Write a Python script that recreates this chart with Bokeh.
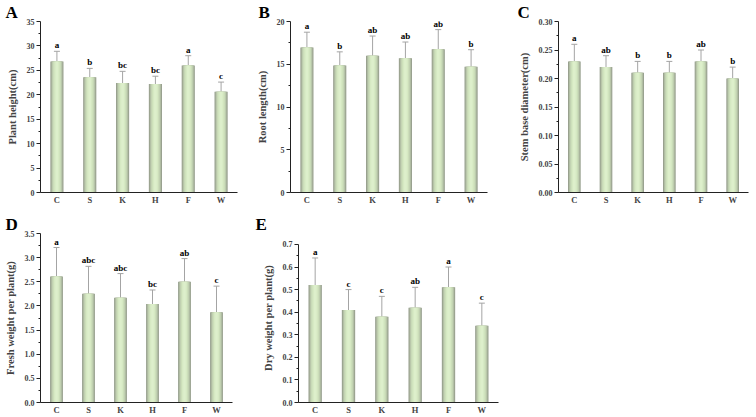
from bokeh.plotting import figure
from bokeh.models import (ColumnDataSource, Whisker, TeeHead, Range1d,
                          FactorRange, FixedTicker, NumeralTickFormatter, Title)
from bokeh.layouts import column, row
from bokeh.embed import file_html
from bokeh.resources import INLINE
from bokeh.core.properties import value

# treatment groups
treatments = ["C", "S", "K", "H", "F", "W"]

# A: plant height (cm)
plant_height = [26.8, 23.6, 22.4, 22.2, 26.0, 20.6]
plant_height_sd = [2.1, 1.8, 2.4, 1.6, 2.0, 2.0]
plant_height_sig = ["a", "b", "bc", "bc", "a", "c"]

# B: root length (cm)
root_length = [16.95, 14.85, 16.0, 15.7, 16.75, 14.7]
root_length_sd = [1.8, 1.6, 2.3, 1.9, 2.3, 2.0]
root_length_sig = ["a", "b", "ab", "ab", "ab", "b"]

# C: stem base diameter (cm)
stem_diameter = [0.23, 0.22, 0.21, 0.21, 0.23, 0.20]
stem_diameter_sd = [0.03, 0.02, 0.02, 0.02, 0.02, 0.02]
stem_diameter_sig = ["a", "ab", "b", "b", "ab", "b"]

# D: fresh weight per plant (g)
fresh_weight = [2.61, 2.25, 2.17, 2.04, 2.50, 1.87]
fresh_weight_sd = [0.60, 0.57, 0.50, 0.29, 0.48, 0.54]
fresh_weight_sig = ["a", "abc", "abc", "bc", "ab", "c"]

# E: dry weight per plant (g)
dry_weight = [0.52, 0.41, 0.38, 0.42, 0.51, 0.34]
dry_weight_sd = [0.12, 0.09, 0.09, 0.09, 0.09, 0.10]
dry_weight_sig = ["a", "c", "c", "ab", "a", "c"]

SERIF = "Liberation Serif"

# bar shading, outer edge to centre, for a rounded look
BAR_LAYERS = [(0.40, "#959d8c"), (0.35, "#aab59d"), (0.30, "#bccbad"),
              (0.24, "#cbddb9"), (0.16, "#d6e9c3"), (0.08, "#ddefcb")]


def panel(letter, letter_dx, vals, sd, sig, ylabel, ymax, step, fmt,
          width, height, left, right, top, bottom, yend=None):
    src = ColumnDataSource(dict(
        x=treatments, top=vals,
        upper=[v + s for v, s in zip(vals, sd)],
        lower=[v - s for v, s in zip(vals, sd)],
        sig=sig,
    ))
    yend = ymax if yend is None else yend
    p = figure(x_range=FactorRange(*treatments), y_range=Range1d(0, yend),
               width=width, height=height, output_backend="svg",
               toolbar_location=None, min_border_left=left,
               min_border_right=right, min_border_top=top,
               min_border_bottom=bottom)
    p.title = Title(text=letter, align="left", offset=letter_dx, standoff=0,
                    text_font=SERIF, text_font_style="bold",
                    text_font_size="17px", text_color="black")
    p.outline_line_color = None
    p.grid.visible = False

    for w, c in BAR_LAYERS:
        p.vbar(x="x", top="top", bottom=0, width=w, source=src,
               fill_color=c, line_color=None)

    whisker = Whisker(source=src, base="x", upper="upper", lower="lower",
                      line_color="#a4a4a4", line_width=1,
                      upper_head=TeeHead(size=6, line_color="#a4a4a4"),
                      lower_head=TeeHead(size=6, line_color="#a4a4a4"))
    p.add_layout(whisker)

    p.text(x="x", y="upper", text="sig", source=src, text_align="center",
           text_baseline="bottom", y_offset=-1, text_font=value(SERIF),
           text_font_style="bold", text_font_size="9px", text_color="black")

    n = int(round(ymax / step))
    ticks = [round(i * step, 6) for i in range(n + 1)]
    minor = [round((i + 0.5) * step, 6) for i in range(n)]

    yax = p.yaxis[0]
    yax.ticker = FixedTicker(ticks=ticks, minor_ticks=minor)
    yax.formatter = NumeralTickFormatter(format=fmt)
    yax.bounds = (0, ymax)
    yax.axis_label = ylabel
    yax.axis_label_text_font = SERIF
    yax.axis_label_text_font_style = "bold"
    yax.axis_label_text_font_size = "10.5px"
    yax.axis_label_standoff = 6
    yax.major_label_text_font = SERIF
    yax.major_label_text_font_style = "bold"
    yax.major_label_text_font_size = "8px"
    yax.major_label_standoff = 2
    yax.major_tick_out = 4
    yax.major_tick_in = 0
    yax.minor_tick_out = 2
    yax.minor_tick_in = 0
    yax.axis_line_color = "#222222"
    yax.major_tick_line_color = "#222222"
    yax.minor_tick_line_color = "#222222"

    xax = p.xaxis[0]
    xax.major_label_text_font = SERIF
    xax.major_label_text_font_style = "bold"
    xax.major_label_text_font_size = "8.5px"
    xax.major_label_standoff = 2
    xax.major_tick_out = 0
    xax.major_tick_in = 0
    xax.axis_line_color = "#222222"
    return p


pa = panel("A", -35, plant_height, plant_height_sd, plant_height_sig,
           "Plant height(cm)", 35, 5, "0", 250, 207, 40, 13, 16, 15)
pb = panel("B", -32, root_length, root_length_sd, root_length_sig,
           "Root length(cm)", 20, 5, "0", 250, 207, 40, 13, 16, 15)
pc = panel("C", -41, stem_diameter, stem_diameter_sd, stem_diameter_sig,
           "Stem base diameter(cm)", 0.30, 0.05, "0.00", 256, 207, 58, 8, 16, 15)
pd = panel("D", -35, fresh_weight, fresh_weight_sd, fresh_weight_sig,
           "Fresh weight per plant(g)", 3.5, 0.5, "0.0", 250, 210, 40, 18, 26, 14)
pe = panel("E", -43, dry_weight, dry_weight_sd, dry_weight_sig,
           "Dry weight per plant(g)", 0.7, 0.1, "0.0", 260, 210, 48, 12, 26, 14,
           yend=0.7484)

layout = column(row(pa, pb, pc), row(pd, pe))
open("out.html", "w").write(file_html(layout, INLINE))
